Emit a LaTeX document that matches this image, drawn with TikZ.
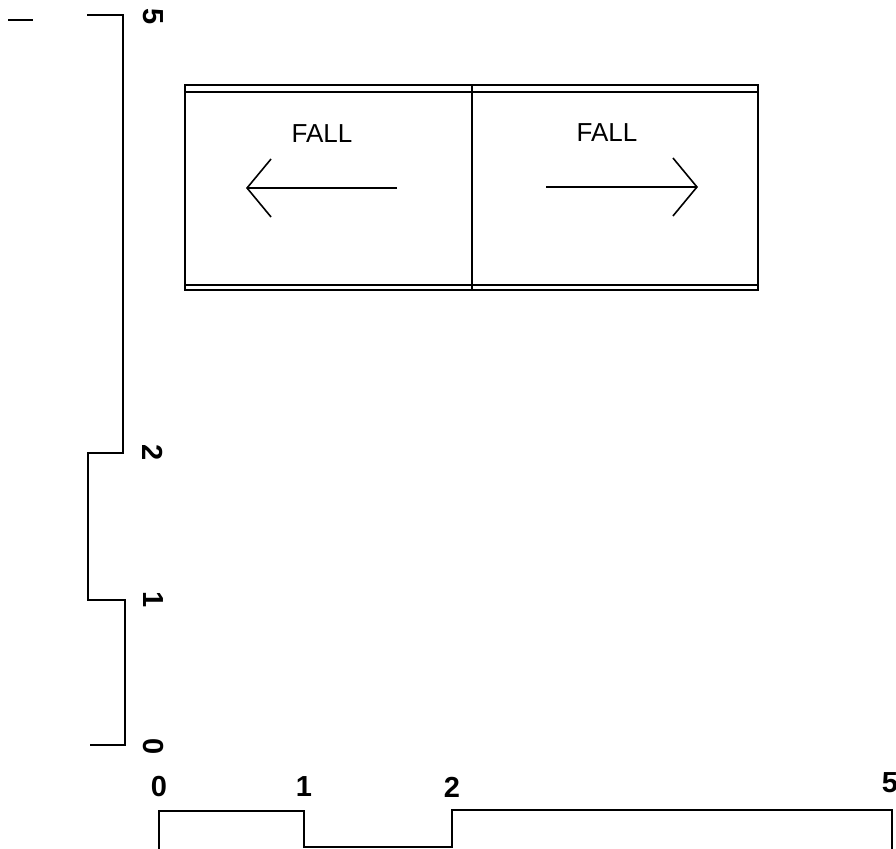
\documentclass[tikz,border=0pt]{standalone}
\usepackage{fontspec}
\setmainfont{Liberation Sans}
\usetikzlibrary{arrows.meta}
\begin{document}
\begin{tikzpicture}[x=0.5pt,y=-0.5pt,line width=0.8pt,draw=black!100]
	\tikzstyle{num}=[font=\fontsize{14.5}{16}\selectfont\bfseries, inner sep=0pt]
	\tikzstyle{vnum}=[num, rotate=-90]
	\tikzstyle{word}=[font=\fontsize{13}{14}\selectfont, inner sep=0pt]
	\tikzstyle{fall}=[-{Straight Barb[length=12pt,width=29pt,line width=0.8pt]}]

	\def \axis{787}
	\def \ticks{153}

	\useasboundingbox (0,0) rectangle (896,849);

	% left profile
	\draw[line width=1pt] (8,20) -- (33,20);
	\draw (87,15) -- (123,15) -- (123,453) -- (88,453) -- (88,600) -- (125,600) -- (125,745) -- (90,745);

	\node[vnum] (yl5) at (\ticks,17)  {5};
	\node[vnum] (yl2) at (\ticks,453) {2};
	\node[vnum] (yl1) at (\ticks,600) {1};
	\node[vnum] (yl0) at (\ticks,747) {0};

	% bottom profile
	\node[num] (xl0) at (159,\axis) {0};
	\node[num] (xl1) at (304,\axis) {1};
	\node[num] (xl2) at (452,\axis) {2};
	\node[num] (xl5) at (890,783)   {5};
	\draw (159,849) -- (159,811) -- (304,811) -- (304,847) -- (452,847) -- (452,810) -- (892,810) -- (892,849);

	% box
	\draw (185,85) rectangle (758,290);
	\draw (185,92) -- (758,92);
	\draw (185,285) -- (758,285);
	\draw (472,85) -- (472,290);

	\node[word] (fl) at (322,134) {FALL};
	\node[word] (fr) at (607,133) {FALL};

	\coordinate (lt) at (397,188);
	\coordinate (lh) at (246,188);
	\coordinate (rt) at (546,187);
	\coordinate (rh) at (698,187);
	\draw[fall] (lt) -- (lh);
	\draw[fall] (rt) -- (rh);
\end{tikzpicture}
\end{document}
